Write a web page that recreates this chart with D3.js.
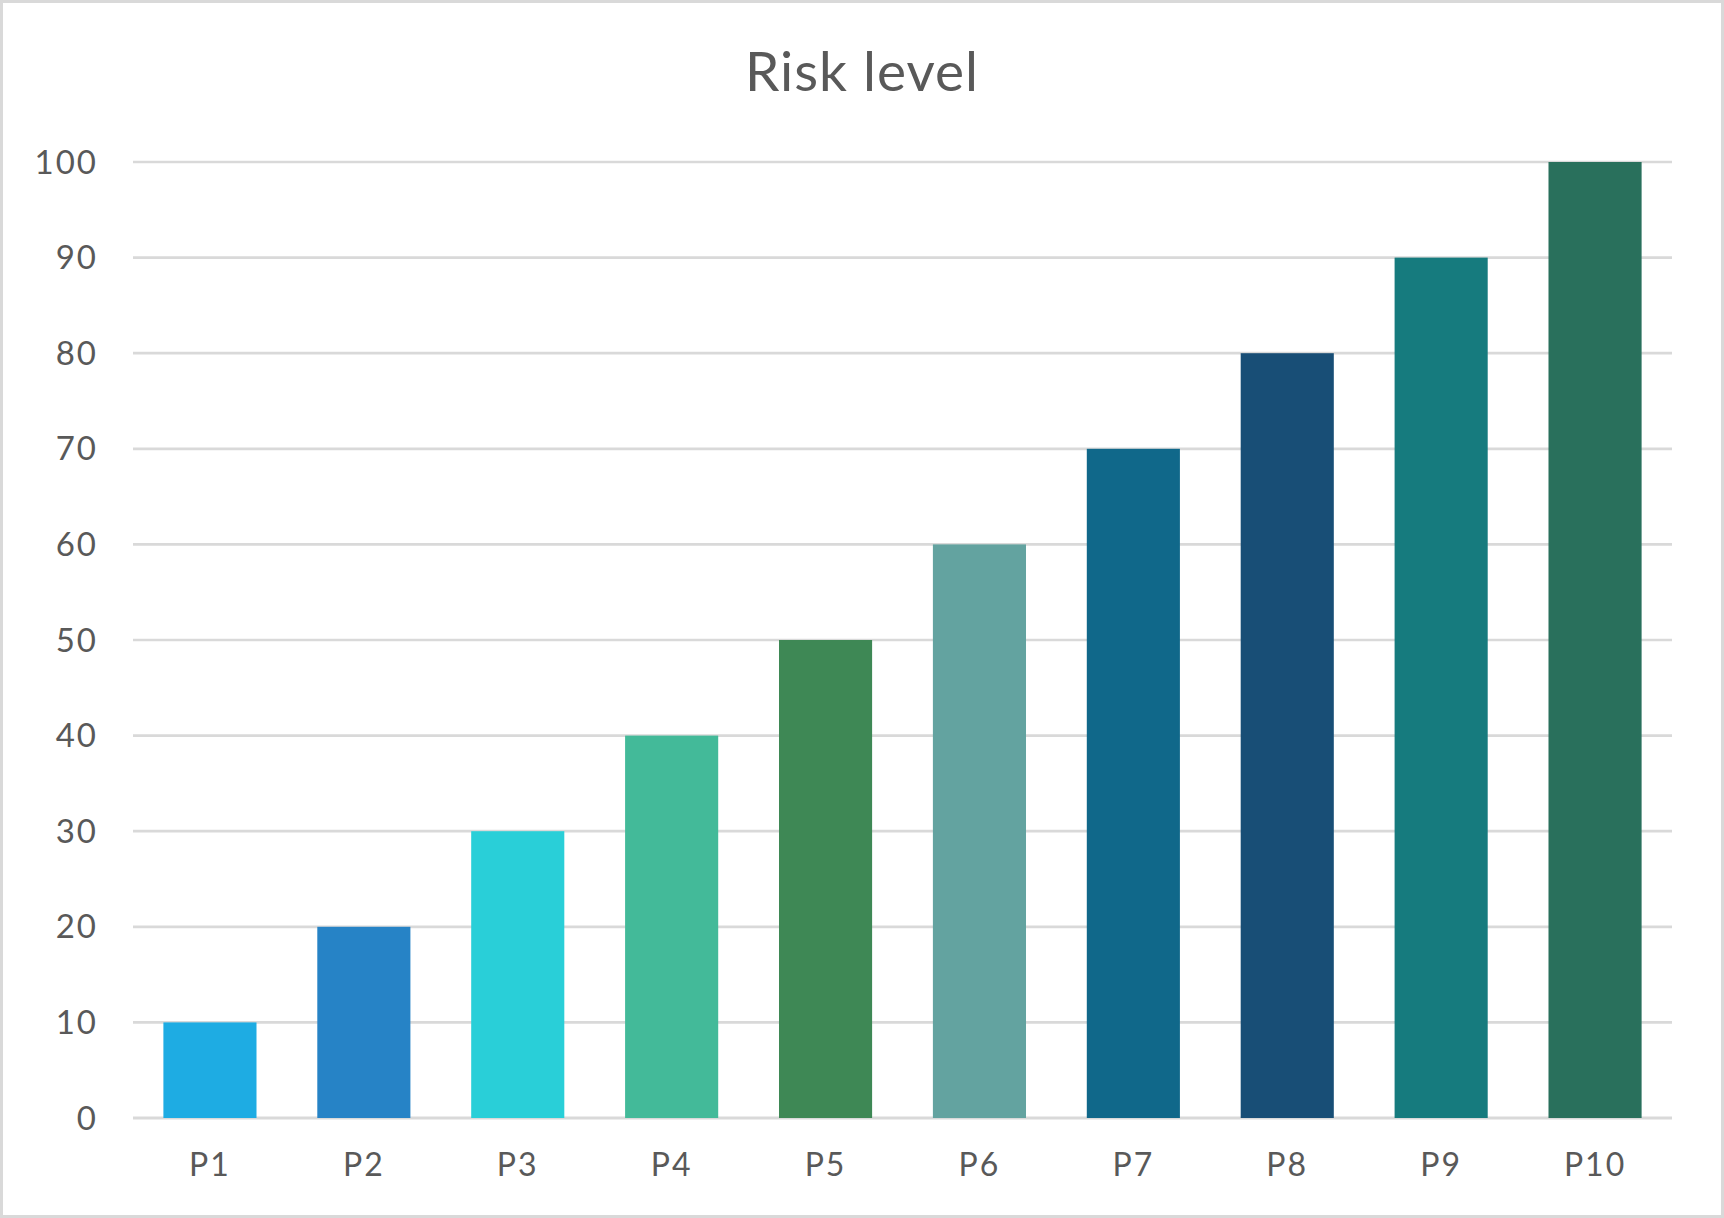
<!DOCTYPE html>
<html>
<head>
<meta charset="utf-8">
<script src="https://cdn.jsdelivr.net/npm/d3@7"></script>
<style>
  html, body { margin: 0; padding: 0; background: #fff; }
  svg { display: block; }
  text { font-family: "Lato", "DejaVu Sans", sans-serif; fill: #595959; }
</style>
</head>
<body>
<script>
const categories = ["P1","P2","P3","P4","P5","P6","P7","P8","P9","P10"];
const values = [10,20,30,40,50,60,70,80,90,100];
const colors = ["#1eace3","#2683c6","#29cfd8","#43ba99","#3e8855","#63a3a0","#10688a","#184e76","#167b7e","#29705c"];
const yTicks = [0,10,20,30,40,50,60,70,80,90,100];
const title = "Risk level";

const W = 1724, H = 1218;
const plot = { left: 133, right: 1672, top: 162, bottom: 1118 };

const svg = d3.select("body").append("svg").attr("width", W).attr("height", H);

// outer border
svg.append("rect").attr("x", 1.5).attr("y", 1.5).attr("width", W - 3).attr("height", H - 3)
  .attr("fill", "#fff").attr("stroke", "#d9d9d9").attr("stroke-width", 3);

const x = d3.scaleBand().domain(categories).range([plot.left, plot.right])
  .paddingInner(0.395).paddingOuter(0.1975);
const y = d3.scaleLinear().domain([0, 100]).range([plot.bottom, plot.top]);

// gridlines
svg.append("g").selectAll("line").data(yTicks).join("line")
  .attr("x1", plot.left).attr("x2", plot.right)
  .attr("y1", d => y(d)).attr("y2", d => y(d))
  .attr("stroke", "#d9d9d9").attr("stroke-width", d => d === 0 ? 3 : 2.7);

// bars
svg.append("g").selectAll("rect").data(categories).join("rect")
  .attr("x", d => x(d)).attr("width", x.bandwidth())
  .attr("y", (d, i) => y(values[i])).attr("height", (d, i) => y(0) - y(values[i]))
  .attr("fill", (d, i) => colors[i]);

// y labels
svg.append("g").selectAll("text").data(yTicks).join("text")
  .attr("x", 98).attr("y", d => y(d)).attr("dy", "0.35em")
  .attr("text-anchor", "end").attr("font-size", 33).attr("letter-spacing", 2).text(d => d);

// x labels
svg.append("g").selectAll("text").data(categories).join("text")
  .attr("x", d => x(d) + x.bandwidth() / 2).attr("y", 1176)
  .attr("text-anchor", "middle").attr("font-size", 32).attr("letter-spacing", 2).text(d => d);

// title
svg.append("text").attr("x", W / 2).attr("y", 91).attr("text-anchor", "middle")
  .attr("font-size", 55).attr("letter-spacing", 1).text(title);
</script>
</body>
</html>
